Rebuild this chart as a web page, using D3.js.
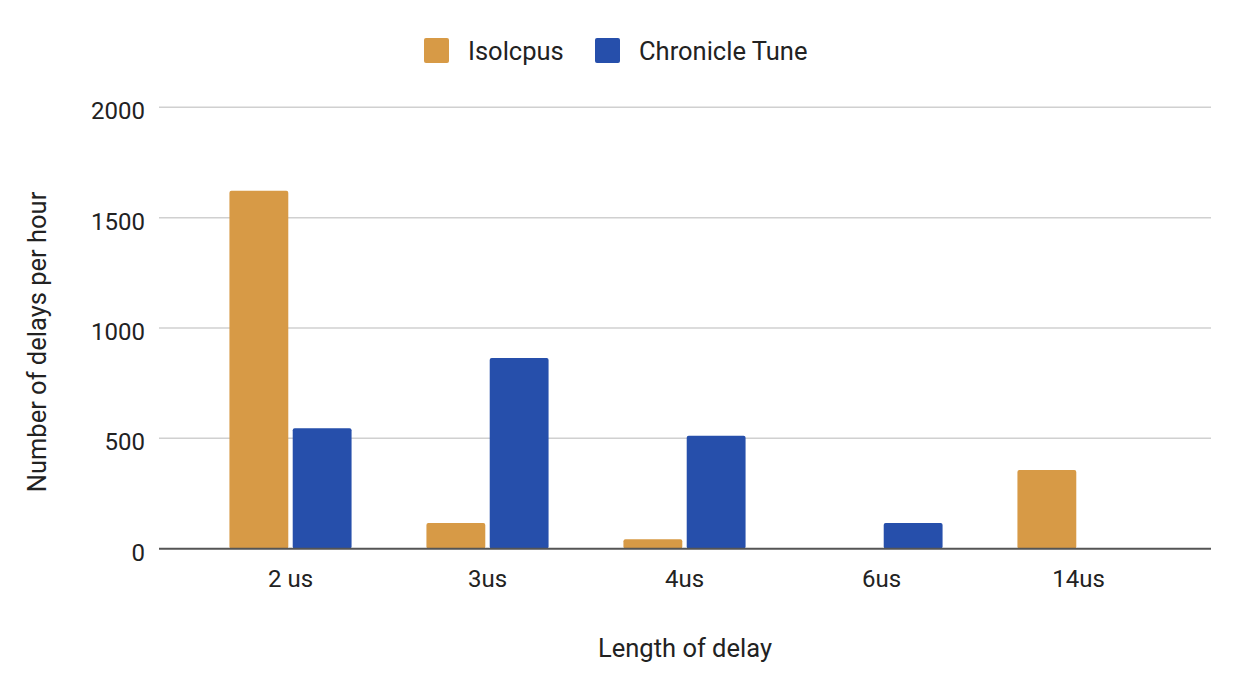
<!DOCTYPE html>
<html>
<head>
<meta charset="utf-8">
<title>delays per hour</title>
<script type="text/javascript" src="https://d3js.org/d3.v7.js"></script>
<style>
  body { margin: 0; background: #fff; }
  text { font-family: Roboto, "Noto Sans", sans-serif; fill: #222; }
</style>
</head>
<body>
<script type="text/javascript">
const categories = ["2 us", "3us", "4us", "6us", "14us"];
const seriesNames = ["Isolcpus", "Chronicle Tune"];
const isolcpus = [1622, 116, 43, 0, 357];
const chronicleTune = [546, 864, 512, 116, 0];
const yTicks = [0, 500, 1000, 1500, 2000];

const width = 1238;
const height = 692;
const colors = ["#d79a46", "#264fab"];

// plot area
const gridLeft = 159, gridRight = 1211;
const bandLeft = 192, bandRight = 1177;
const plotTop = 107.3, plotBottom = 548.7;

const svg = d3.select("body")
  .append("svg")
  .attr("width", width)
  .attr("height", height);

const rows = categories.map((c, i) => ({ cat: c, values: [isolcpus[i], chronicleTune[i]] }));

const x0 = d3.scaleBand().domain(categories).range([bandLeft, bandRight])
  .paddingInner(0.38).paddingOuter(0.19);
const x1 = d3.scaleBand().domain(seriesNames).range([0, x0.bandwidth()]).paddingInner(0.07);
const y = d3.scaleLinear().domain([0, 2000]).range([plotBottom, plotTop]);

// grid lines
svg.append("g")
  .selectAll("line")
  .data(yTicks.filter(d => d > 0))
  .enter().append("line")
  .attr("x1", gridLeft).attr("x2", gridRight)
  .attr("y1", d => y(d)).attr("y2", d => y(d))
  .attr("stroke", "#d0d0d0")
  .attr("stroke-width", 1.5);

// y tick labels
svg.append("g")
  .selectAll("text")
  .data(yTicks)
  .enter().append("text")
  .attr("x", 145)
  .attr("y", d => y(d))
  .attr("dy", 12)
  .attr("text-anchor", "end")
  .style("font-size", "24px")
  .text(d => d);

// bars
const group = svg.append("g")
  .selectAll("g")
  .data(rows)
  .enter().append("g")
  .attr("transform", d => `translate(${x0(d.cat)},0)`);

group.selectAll("rect")
  .data(d => d.values.map((v, i) => ({ name: seriesNames[i], v: v, i: i })))
  .enter().append("rect")
  .filter(d => d.v > 0)
  .attr("x", d => x1(d.name))
  .attr("y", d => y(d.v))
  .attr("width", x1.bandwidth())
  .attr("height", d => y(0) - y(d.v))
  .attr("rx", 2)
  .attr("fill", d => colors[d.i]);

// baseline
svg.append("line")
  .attr("x1", gridLeft).attr("x2", gridRight)
  .attr("y1", y(0)).attr("y2", y(0))
  .attr("stroke", "#555")
  .attr("stroke-width", 2);

// x labels
svg.append("g")
  .selectAll("text")
  .data(categories)
  .enter().append("text")
  .attr("x", d => x0(d) + x0.bandwidth() / 2)
  .attr("y", 587)
  .attr("text-anchor", "middle")
  .style("font-size", "24px")
  .text(d => d);

// axis titles
svg.append("text")
  .attr("x", 685)
  .attr("y", 657)
  .attr("text-anchor", "middle")
  .style("font-size", "25.5px")
  .text("Length of delay");

svg.append("text")
  .attr("transform", "translate(46,342) rotate(-90)")
  .attr("text-anchor", "middle")
  .style("font-size", "25.5px")
  .text("Number of delays per hour");

// legend
const legendX = [424, 595];
const legend = svg.append("g")
  .selectAll("g")
  .data(seriesNames)
  .enter().append("g")
  .attr("transform", (d, i) => `translate(${legendX[i]},38)`);

legend.append("rect")
  .attr("width", 25).attr("height", 25)
  .attr("rx", 2)
  .attr("fill", (d, i) => colors[i]);

legend.append("text")
  .attr("x", 44)
  .attr("y", 22)
  .style("font-size", "25.5px")
  .text(d => d);
</script>
</body>
</html>
